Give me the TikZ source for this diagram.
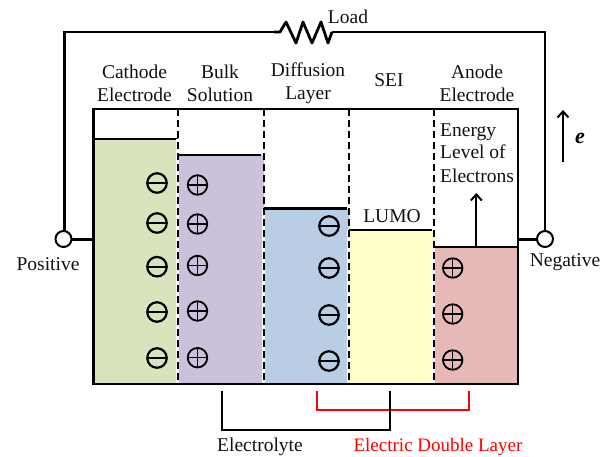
\documentclass[tikz,border=0pt]{standalone}
\usepackage{fontspec}
\setmainfont{Liberation Serif}
\definecolor{cgreen}{HTML}{D8E4BC}
\definecolor{cpurple}{HTML}{CCC1DA}
\definecolor{cblue}{HTML}{B9CDE5}
\definecolor{cyellow}{HTML}{FFFFCC}
\definecolor{cpink}{HTML}{E6B9B8}
\definecolor{ctext}{HTML}{111111}
\newcommand{\sgnminus}[2]{\node[ionsign] at (#1,#2) {}; \draw[line width=2.2pt] (#1-9.5,#2) -- (#1+9.5,#2);}
\newcommand{\sgnplus}[2]{\node[ionsign,line width=1.8pt] at (#1,#2) {}; \draw[line width=1.5pt] (#1-9.5,#2) -- (#1+9.5,#2) (#1,#2-9.5) -- (#1,#2+9.5);}
\usetikzlibrary{arrows.meta}
\tikzset{
  ionsign/.style={circle,draw,line width=2.2pt,minimum size=19.5pt,inner sep=0pt},
  wire/.style={line width=2.4pt},
  lbl/.style={font=\fontsize{19.5}{23}\selectfont,text=ctext,inner sep=0pt,align=center},
  term/.style={circle,draw,fill=white,line width=2pt,minimum size=16pt,inner sep=0pt},
  levelline/.style={line width=2.4pt},
  divider/.style={line width=2pt,dash pattern=on 6.5pt off 4.5pt},
  halo/.style={line width=2.2pt,white},
  updir/.style={line width=2pt,-{Straight Barb[length=6pt,width=11pt,line width=2pt]}},
}
\begin{document}
\begin{tikzpicture}[x=1pt,y=-1pt]
\useasboundingbox (0,0) rectangle (609,456);
% fills
\fill[cgreen] (93.5,139) rectangle (177.5,383.7);
\fill[cpurple] (177.5,155) rectangle (263.5,383.7);
\fill[cblue] (263.5,208.5) rectangle (348.5,383.7);
\fill[cyellow] (348.5,230) rectangle (433.5,383.7);
\fill[cpink] (433.5,247) rectangle (517.7,383.7);
% levels
\draw[levelline] (93.5,139) -- (177.5,139);
\draw[levelline] (178,155) -- (260.5,155);
\draw[levelline,line width=2.8pt] (264,208.5) -- (347,208.5);
\draw[levelline,line width=2pt] (349,230) -- (432,230);
\draw[levelline] (434,247) -- (517.7,247);
% dividers
\foreach \x/\y in {177.5/139,263.5/208.5,348.5/230,433.5/247}{
  \draw[halo] (\x,\y) -- (\x,383);
}
\foreach \x in {177.5,263.5,348.5,433.5}{
  \draw[divider] (\x,109) -- (\x,383);
}
% frame
\draw[wire] (93.5,108.7) rectangle (517.7,383.7);
% signs
\foreach \y in {183,223,266.7,312,358}{\sgnminus{157}{\y}}
\foreach \y in {185,224,265.5,311,357.7}{\sgnplus{197.5}{\y}}
\foreach \y in {226,268,315,361}{\sgnminus{329}{\y}}
\foreach \y in {268,314,360}{\sgnplus{452.7}{\y}}
% circuit
\coordinate (framel) at (93.5,239);
\coordinate (framer) at (517.7,239);
\coordinate (resl) at (274,32);
\coordinate (resr) at (332,32);
\draw[line width=3pt] (63.5,239) -- (framel);
\draw[line width=3pt] (545,239) -- (framer);
\draw[wire,line join=miter] (64.5,239) -- (64.5,32) -- (resl);
\draw[wire,line join=miter] (545,239) -- (545,32) -- (resr);
\node[term] (pos) at (63.5,239) {};
\node[term] (neg) at (545,239) {};
\draw[line width=2.8pt,line join=round] (resl) -- (280,32) -- (286,22) -- (296,43) -- (303,22) -- (312,43) -- (321,22) -- (328,43) -- (resr);
% arrows
\coordinate (a1) at (476.3,247); \coordinate (a2) at (476.3,193);
\draw[updir] (a1) -- (a2);
\coordinate (e1) at (563,162); \coordinate (e2) at (563,110);
\draw[updir] (e1) -- (e2);
% brackets
\coordinate (b1) at (222,391); \coordinate (b2) at (390,391);
\draw[wire] (b1) -- (222,429.7) -- (390,429.7) -- (b2);
\coordinate (r1) at (317,391); \coordinate (r2) at (469,391);
\draw[wire,red] (r1) -- (317,410) -- (469,410) -- (r2);
\draw[wire] (390,391) -- (390,412);
% labels
\node[lbl] (tload) at (348,17) {Load};
\node[lbl] (tcath) at (134.5,83.5) {Cathode\\Electrode};
\node[lbl] (tbulk) at (220,83.5) {Bulk\\Solution};
\node[lbl] (tdiff) at (308,83.5) {Diffusion\\Layer};
\node[lbl] (tsei) at (389,80) {SEI};
\node[lbl] (tanode) at (477,83.5) {Anode\\Electrode};
\node[lbl,align=left,anchor=north west] (tenergy) at (440,124) {Energy\\[-1pt]Level of\\[1pt]Electrons};
\node[lbl] (tlumo) at (392,216) {LUMO};
\node[lbl] (tpos) at (48,264) {Positive};
\node[lbl] (tneg) at (565,262) {Negative};
\node[lbl] (telec) at (260,447) {Electrolyte};
\node[lbl,text=red,font=\fontsize{19}{23}\selectfont] (tedl) at (438,446.7) {Electric Double Layer};
\node[inner sep=0pt,font=\fontsize{22}{24}\selectfont\bfseries\itshape] (te) at (580,138) {e};
\end{tikzpicture}
\end{document}
